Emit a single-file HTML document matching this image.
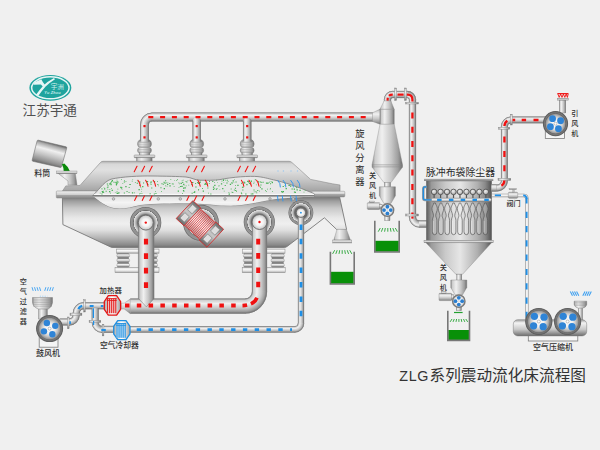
<!DOCTYPE html>
<html><head><meta charset="utf-8"><title>ZLG</title><style>html,body{margin:0;padding:0;background:#f0f0f0;font-family:"Liberation Sans",sans-serif}svg{display:block}</style></head><body><svg width="600" height="450" viewBox="0 0 600 450"><defs>
<linearGradient id="gV" x1="0" y1="0" x2="0" y2="1">
 <stop offset="0" stop-color="#858585"/><stop offset=".1" stop-color="#cdcdcd"/><stop offset=".33" stop-color="#f0f0f0"/><stop offset=".63" stop-color="#c8c8c8"/><stop offset=".85" stop-color="#9e9e9e"/><stop offset="1" stop-color="#6c6c6c"/>
</linearGradient>
<linearGradient id="gH" x1="0" y1="0" x2="1" y2="0">
 <stop offset="0" stop-color="#858585"/><stop offset=".1" stop-color="#cdcdcd"/><stop offset=".33" stop-color="#f0f0f0"/><stop offset=".63" stop-color="#c8c8c8"/><stop offset=".85" stop-color="#9e9e9e"/><stop offset="1" stop-color="#6c6c6c"/>
</linearGradient>
<linearGradient id="gHd" x1="0" y1="0" x2="1" y2="0">
 <stop offset="0" stop-color="#5a5a5a"/><stop offset=".08" stop-color="#9a9a9a"/><stop offset=".3" stop-color="#cacaca"/><stop offset=".52" stop-color="#e6e6e6"/><stop offset=".78" stop-color="#b0b0b0"/><stop offset=".9" stop-color="#8a8a8a"/><stop offset="1" stop-color="#505050"/>
</linearGradient>
<linearGradient id="gUp" x1="0" y1="161" x2="0" y2="191" gradientUnits="userSpaceOnUse">
 <stop offset="0" stop-color="#a8a8a8"/><stop offset=".1" stop-color="#d8d8d8"/><stop offset=".3" stop-color="#e0e0e0"/><stop offset=".7" stop-color="#c0c0c0"/><stop offset="1" stop-color="#a4a4a4"/>
</linearGradient>
<linearGradient id="gLow" x1="0" y1="198" x2="0" y2="248" gradientUnits="userSpaceOnUse">
 <stop offset="0" stop-color="#808080"/><stop offset=".06" stop-color="#9e9e9e"/><stop offset=".2" stop-color="#c8c8c8"/><stop offset=".4" stop-color="#e8e8e8"/><stop offset=".52" stop-color="#efefef"/><stop offset=".64" stop-color="#e0e0e0"/><stop offset=".8" stop-color="#b4b4b4"/><stop offset=".93" stop-color="#8c8c8c"/><stop offset="1" stop-color="#6e6e6e"/>
</linearGradient>
<linearGradient id="gLeftShade" x1="62" y1="0" x2="70" y2="0" gradientUnits="userSpaceOnUse">
 <stop offset="0" stop-color="#707070" stop-opacity=".3"/><stop offset="1" stop-color="#707070" stop-opacity="0"/>
</linearGradient>
<linearGradient id="gFl" x1="0" y1="0" x2="0" y2="1">
 <stop offset="0" stop-color="#f2f2f2"/><stop offset=".5" stop-color="#d0d0d0"/><stop offset=".55" stop-color="#a8a8a8"/><stop offset="1" stop-color="#8a8a8a"/>
</linearGradient>
<linearGradient id="gWinLow" x1="0" y1="196" x2="0" y2="209" gradientUnits="userSpaceOnUse">
 <stop offset="0" stop-color="#e0e0e0"/><stop offset=".5" stop-color="#f4f4f4"/><stop offset="1" stop-color="#e2e2e2"/>
</linearGradient>
<linearGradient id="gBucket" x1="52.1" y1="143.5" x2="46.5" y2="164.3" gradientUnits="userSpaceOnUse">
 <stop offset="0" stop-color="#6a6a6a"/><stop offset=".1" stop-color="#aaaaaa"/><stop offset=".32" stop-color="#f0f0f0"/><stop offset=".6" stop-color="#c4c4c4"/><stop offset=".88" stop-color="#909090"/><stop offset="1" stop-color="#6e6e6e"/>
</linearGradient>
<radialGradient id="gFan" cx=".5" cy=".5" r=".5">
 <stop offset="0" stop-color="#ffffff"/><stop offset=".45" stop-color="#f0f0f0"/><stop offset=".75" stop-color="#c4c4c4"/><stop offset="1" stop-color="#8c8c8c"/>
</radialGradient>
<radialGradient id="gFanRing" cx=".5" cy=".5" r=".5">
 <stop offset="0" stop-color="#555"/><stop offset=".8" stop-color="#5a5a5a"/><stop offset=".9" stop-color="#787878"/><stop offset="1" stop-color="#606060"/>
</radialGradient>
<radialGradient id="gPort" cx=".5" cy=".5" r=".5">
 <stop offset="0" stop-color="#666"/><stop offset=".5" stop-color="#686868"/><stop offset=".6" stop-color="#a8a8a8"/><stop offset=".72" stop-color="#d8d8d8"/><stop offset=".755" stop-color="#dcdcdc"/><stop offset=".775" stop-color="#6a6a6a"/><stop offset=".81" stop-color="#8e8e8e"/><stop offset=".93" stop-color="#969696"/><stop offset="1" stop-color="#606060"/>
</radialGradient>
<radialGradient id="gPipeEnd" cx=".5" cy=".5" r=".5">
 <stop offset="0" stop-color="#ffffff"/><stop offset=".5" stop-color="#f4f4f4"/><stop offset=".85" stop-color="#d4d4d4"/><stop offset="1" stop-color="#b0b0b0"/>
</radialGradient>
<linearGradient id="gHeat" x1="0" y1="0" x2="1" y2="0">
 <stop offset="0" stop-color="#f0b0b0"/><stop offset=".4" stop-color="#ffffff"/><stop offset="1" stop-color="#e89a9a"/>
</linearGradient>
<linearGradient id="gCool" x1="0" y1="0" x2="1" y2="0">
 <stop offset="0" stop-color="#a8d4f0"/><stop offset=".4" stop-color="#ffffff"/><stop offset="1" stop-color="#8ec4ea"/>
</linearGradient>
<linearGradient id="gCap" x1="0" y1="0" x2="0" y2="1">
 <stop offset="0" stop-color="#6c6c6c"/><stop offset=".3" stop-color="#b0b0b0"/><stop offset=".5" stop-color="#c6c6c6"/><stop offset=".72" stop-color="#a4a4a4"/><stop offset="1" stop-color="#686868"/>
</linearGradient>
<linearGradient id="gRib" x1="0" y1="0" x2="0" y2="1">
 <stop offset="0" stop-color="#b49c9c"/><stop offset=".35" stop-color="#f0eaea"/><stop offset=".55" stop-color="#f6f2f2"/><stop offset="1" stop-color="#b8a0a0"/>
</linearGradient>
<linearGradient id="gHx" x1="0" y1="0" x2="1" y2="0">
 <stop offset="0" stop-color="#a8a8a8"/><stop offset=".45" stop-color="#ffffff"/><stop offset=".6" stop-color="#f4f4f4"/><stop offset="1" stop-color="#a0a0a0"/>
</linearGradient>
<radialGradient id="gValve" cx=".4" cy=".35" r=".65">
 <stop offset="0" stop-color="#f0f0f0"/><stop offset=".6" stop-color="#c8c8c8"/><stop offset="1" stop-color="#9a9a9a"/>
</radialGradient>
<linearGradient id="gSp" x1="0" y1="0" x2="0" y2="1">
 <stop offset="0" stop-color="#d0d0d0"/><stop offset=".3" stop-color="#fafafa"/><stop offset=".7" stop-color="#e0e0e0"/><stop offset="1" stop-color="#9a9a9a"/>
</linearGradient>
<linearGradient id="gLid" x1="0" y1="0" x2="0" y2="1">
 <stop offset="0" stop-color="#b0b0b0"/><stop offset=".5" stop-color="#989898"/><stop offset="1" stop-color="#787878"/>
</linearGradient>
<linearGradient id="gComp" x1="0" y1="0" x2="0" y2="1">
 <stop offset="0" stop-color="#9a9a9a"/><stop offset=".2" stop-color="#f4f4f4"/><stop offset=".6" stop-color="#c8c8c8"/><stop offset="1" stop-color="#6e6e6e"/>
</linearGradient>
<radialGradient id="ge1" gradientUnits="userSpaceOnUse" cx="152" cy="124.5" r="11.80"><stop offset="0.271" stop-color="#6c6c6c"/><stop offset="0.381" stop-color="#9e9e9e"/><stop offset="0.541" stop-color="#c8c8c8"/><stop offset="0.759" stop-color="#f0f0f0"/><stop offset="0.927" stop-color="#cdcdcd"/><stop offset="1.000" stop-color="#858585"/></radialGradient><radialGradient id="ge2" gradientUnits="userSpaceOnUse" cx="245" cy="291.6" r="22.00"><stop offset="0.318" stop-color="#858585"/><stop offset="0.386" stop-color="#cdcdcd"/><stop offset="0.543" stop-color="#f0f0f0"/><stop offset="0.748" stop-color="#c8c8c8"/><stop offset="0.898" stop-color="#9e9e9e"/><stop offset="1.000" stop-color="#6c6c6c"/></radialGradient><radialGradient id="ge3" gradientUnits="userSpaceOnUse" cx="294.8" cy="323.2" r="9.30"><stop offset="0.333" stop-color="#858585"/><stop offset="0.400" stop-color="#cdcdcd"/><stop offset="0.553" stop-color="#f0f0f0"/><stop offset="0.753" stop-color="#c8c8c8"/><stop offset="0.900" stop-color="#9e9e9e"/><stop offset="1.000" stop-color="#6c6c6c"/></radialGradient><radialGradient id="ge4" gradientUnits="userSpaceOnUse" cx="69.3" cy="315.1" r="10.35"><stop offset="0.333" stop-color="#858585"/><stop offset="0.400" stop-color="#cdcdcd"/><stop offset="0.553" stop-color="#f0f0f0"/><stop offset="0.753" stop-color="#c8c8c8"/><stop offset="0.900" stop-color="#9e9e9e"/><stop offset="1.000" stop-color="#6c6c6c"/></radialGradient><radialGradient id="ge5" gradientUnits="userSpaceOnUse" cx="83.8" cy="313.2" r="10.95"><stop offset="0.370" stop-color="#6c6c6c"/><stop offset="0.464" stop-color="#9e9e9e"/><stop offset="0.603" stop-color="#c8c8c8"/><stop offset="0.792" stop-color="#f0f0f0"/><stop offset="0.937" stop-color="#cdcdcd"/><stop offset="1.000" stop-color="#858585"/></radialGradient><radialGradient id="ge6" gradientUnits="userSpaceOnUse" cx="102" cy="322.5" r="10.20"><stop offset="0.333" stop-color="#6c6c6c"/><stop offset="0.433" stop-color="#9e9e9e"/><stop offset="0.580" stop-color="#c8c8c8"/><stop offset="0.780" stop-color="#f0f0f0"/><stop offset="0.933" stop-color="#cdcdcd"/><stop offset="1.000" stop-color="#858585"/></radialGradient><radialGradient id="ge7" gradientUnits="userSpaceOnUse" cx="392.5" cy="99.5" r="8.50"><stop offset="0.176" stop-color="#6c6c6c"/><stop offset="0.300" stop-color="#9e9e9e"/><stop offset="0.481" stop-color="#c8c8c8"/><stop offset="0.728" stop-color="#f0f0f0"/><stop offset="0.918" stop-color="#cdcdcd"/><stop offset="1.000" stop-color="#858585"/></radialGradient><radialGradient id="ge8" gradientUnits="userSpaceOnUse" cx="407.5" cy="99.5" r="8.50"><stop offset="0.176" stop-color="#858585"/><stop offset="0.259" stop-color="#cdcdcd"/><stop offset="0.448" stop-color="#f0f0f0"/><stop offset="0.695" stop-color="#c8c8c8"/><stop offset="0.876" stop-color="#9e9e9e"/><stop offset="1.000" stop-color="#6c6c6c"/></radialGradient><radialGradient id="ge9" gradientUnits="userSpaceOnUse" cx="419.5" cy="217" r="10.50"><stop offset="0.333" stop-color="#6c6c6c"/><stop offset="0.433" stop-color="#9e9e9e"/><stop offset="0.580" stop-color="#c8c8c8"/><stop offset="0.780" stop-color="#f0f0f0"/><stop offset="0.933" stop-color="#cdcdcd"/><stop offset="1.000" stop-color="#858585"/></radialGradient><radialGradient id="ge10" gradientUnits="userSpaceOnUse" cx="497" cy="180.6" r="10.70"><stop offset="0.383" stop-color="#858585"/><stop offset="0.445" stop-color="#cdcdcd"/><stop offset="0.587" stop-color="#f0f0f0"/><stop offset="0.772" stop-color="#c8c8c8"/><stop offset="0.907" stop-color="#9e9e9e"/><stop offset="1.000" stop-color="#6c6c6c"/></radialGradient><radialGradient id="ge11" gradientUnits="userSpaceOnUse" cx="511" cy="126.5" r="9.90"><stop offset="0.333" stop-color="#6c6c6c"/><stop offset="0.433" stop-color="#9e9e9e"/><stop offset="0.580" stop-color="#c8c8c8"/><stop offset="0.780" stop-color="#f0f0f0"/><stop offset="0.933" stop-color="#cdcdcd"/><stop offset="1.000" stop-color="#858585"/></radialGradient></defs>
<rect x="0" y="0" width="600" height="450" fill="#f0f0f0"/>
<ellipse cx="50.35" cy="87.8" rx="21" ry="12.9" fill="#1fa49e"/>
<ellipse cx="50.35" cy="87.8" rx="18.7" ry="11" fill="none" stroke="#e6f6f5" stroke-width="1.5"/>
<path d="M54.0,78.0 Q47,81.8 43.4,85.5 Q39.8,89.6 36.0,94.8 L38.4,95.8 Q42,90.6 45.4,86.8 Q48.6,83.2 55.0,79.2 Z" fill="#e6f6f5"/>
<path d="M33.4,84.7 L34.6,82.2 L41.3,79.3 Q42.8,82.6 45.2,85.2 L43.4,87 Q42,85.6 40.9,84.5 Z" fill="#e6f6f5"/>
<text x="50.7" y="88.9" font-size="6.7" fill="#cdeeed" font-family="'Liberation Sans','Noto Sans CJK SC',sans-serif">宇洲</text>
<text x="44.3" y="94.3" font-size="3.8" font-weight="bold" font-style="italic" letter-spacing="0.2" fill="#c4eceb" font-family="'Liberation Sans',sans-serif">Yu Zhou</text>
<text x="22.6" y="115.1" font-size="13.6" fill="#505050" font-family="'Liberation Sans','Noto Sans CJK SC',sans-serif">江苏宇通</text>
<path d="M38.3,140.2 L66,146.8 Q67,147.1 66.7,148.1 L61.5,166.8 Q61.2,167.7 60.2,167.4 L32.9,161.3 Q31.9,161 32.2,160 L37.1,140.9 Q37.4,140 38.3,140.2 Z" fill="url(#gBucket)" stroke="#707070" stroke-width="0.6"/>
<path d="M61.9,164.2 L64.3,163.6 Q68.2,166.6 69.9,171.3 L63.7,171.3 Q63.6,167.2 61.9,164.2 Z" fill="#0a8a0a"/>
<text x="34.2" y="175.5" font-size="8" font-weight="500" fill="#303030" font-family="'Liberation Sans','Noto Sans CJK SC',sans-serif">料筒</text>
<polygon points="58.30,173.50 75.30,173.50 77.00,185.00 68.00,185.00 68.00,181.00" fill="url(#gH)" stroke="#888" stroke-width="0.5" stroke-linejoin="round" />
<rect x="56.50" y="171.00" width="20.50" height="2.60" fill="url(#gV)" stroke="#888" stroke-width="0.4" />
<rect x="137.60" y="140.20" width="13.80" height="7.20" fill="url(#gH)" stroke="#808080" stroke-width="0.5" rx="3.2" />
<rect x="137.60" y="147.40" width="13.80" height="6.00" fill="url(#gH)" stroke="#808080" stroke-width="0.5" rx="2.8" />
<rect x="139.20" y="139.80" width="10.60" height="2.20" fill="url(#gH)" stroke="#808080" stroke-width="0.4" rx="0.8" />
<rect x="139.20" y="152.60" width="10.60" height="2.60" fill="url(#gH)" stroke="#808080" stroke-width="0.4" />
<line x1="138.2" y1="142.8" x2="150.8" y2="142.8" stroke="#9a9a9a" stroke-width="0.5"/>
<line x1="138.2" y1="144.8" x2="150.8" y2="144.8" stroke="#9a9a9a" stroke-width="0.5"/>
<line x1="138.2" y1="146.4" x2="150.8" y2="146.4" stroke="#9a9a9a" stroke-width="0.5"/>
<line x1="138.2" y1="149.4" x2="150.8" y2="149.4" stroke="#9a9a9a" stroke-width="0.5"/>
<line x1="138.2" y1="151.2" x2="150.8" y2="151.2" stroke="#9a9a9a" stroke-width="0.5"/>
<rect x="134.20" y="155.00" width="20.60" height="2.70" fill="url(#gV)" stroke="#808080" stroke-width="0.5" rx="0.6" />
<rect x="136.50" y="157.70" width="15.60" height="3.50" fill="url(#gH)" stroke="#808080" stroke-width="0.4" />
<rect x="189.80" y="140.20" width="13.80" height="7.20" fill="url(#gH)" stroke="#808080" stroke-width="0.5" rx="3.2" />
<rect x="189.80" y="147.40" width="13.80" height="6.00" fill="url(#gH)" stroke="#808080" stroke-width="0.5" rx="2.8" />
<rect x="191.40" y="139.80" width="10.60" height="2.20" fill="url(#gH)" stroke="#808080" stroke-width="0.4" rx="0.8" />
<rect x="191.40" y="152.60" width="10.60" height="2.60" fill="url(#gH)" stroke="#808080" stroke-width="0.4" />
<line x1="190.39999999999998" y1="142.8" x2="203.0" y2="142.8" stroke="#9a9a9a" stroke-width="0.5"/>
<line x1="190.39999999999998" y1="144.8" x2="203.0" y2="144.8" stroke="#9a9a9a" stroke-width="0.5"/>
<line x1="190.39999999999998" y1="146.4" x2="203.0" y2="146.4" stroke="#9a9a9a" stroke-width="0.5"/>
<line x1="190.39999999999998" y1="149.4" x2="203.0" y2="149.4" stroke="#9a9a9a" stroke-width="0.5"/>
<line x1="190.39999999999998" y1="151.2" x2="203.0" y2="151.2" stroke="#9a9a9a" stroke-width="0.5"/>
<rect x="186.40" y="155.00" width="20.60" height="2.70" fill="url(#gV)" stroke="#808080" stroke-width="0.5" rx="0.6" />
<rect x="188.70" y="157.70" width="15.60" height="3.50" fill="url(#gH)" stroke="#808080" stroke-width="0.4" />
<rect x="240.30" y="140.20" width="13.80" height="7.20" fill="url(#gH)" stroke="#808080" stroke-width="0.5" rx="3.2" />
<rect x="240.30" y="147.40" width="13.80" height="6.00" fill="url(#gH)" stroke="#808080" stroke-width="0.5" rx="2.8" />
<rect x="241.90" y="139.80" width="10.60" height="2.20" fill="url(#gH)" stroke="#808080" stroke-width="0.4" rx="0.8" />
<rect x="241.90" y="152.60" width="10.60" height="2.60" fill="url(#gH)" stroke="#808080" stroke-width="0.4" />
<line x1="240.89999999999998" y1="142.8" x2="253.5" y2="142.8" stroke="#9a9a9a" stroke-width="0.5"/>
<line x1="240.89999999999998" y1="144.8" x2="253.5" y2="144.8" stroke="#9a9a9a" stroke-width="0.5"/>
<line x1="240.89999999999998" y1="146.4" x2="253.5" y2="146.4" stroke="#9a9a9a" stroke-width="0.5"/>
<line x1="240.89999999999998" y1="149.4" x2="253.5" y2="149.4" stroke="#9a9a9a" stroke-width="0.5"/>
<line x1="240.89999999999998" y1="151.2" x2="253.5" y2="151.2" stroke="#9a9a9a" stroke-width="0.5"/>
<rect x="236.90" y="155.00" width="20.60" height="2.70" fill="url(#gV)" stroke="#808080" stroke-width="0.5" rx="0.6" />
<rect x="239.20" y="157.70" width="15.60" height="3.50" fill="url(#gH)" stroke="#808080" stroke-width="0.4" />
<rect x="140.20" y="124.15" width="8.60" height="17.20" fill="url(#gH)"/>
<path d="M140.50,124.15 V141.35 M148.50,124.15 V141.35" stroke="#7c7c7c" stroke-width="0.7" fill="none"/>
<path d="M148.80,124.50 A3.20,3.20 0 0 1 152.00,121.30 L152.00,112.70 A11.80,11.80 0 0 0 140.20,124.50 Z" fill="url(#ge1)"/>
<path d="M148.50,124.50 A3.50,3.50 0 0 1 152.00,121.00 M152.00,113.00 A11.50,11.50 0 0 0 140.50,124.50" stroke="#7c7c7c" stroke-width="0.7" fill="none"/>
<rect x="151.65" y="112.60" width="221.70" height="8.80" fill="url(#gV)"/>
<path d="M151.65,112.90 H373.35 M151.65,121.10 H373.35" stroke="#7c7c7c" stroke-width="0.7" fill="none"/>
<path d="M192.6,121.5 Q192.6,117.8 195.89999999999998,117.8 Q200.79999999999998,117.8 200.79999999999998,121.5 Z" fill="url(#gH)" stroke="none"/>
<rect x="192.60" y="120.85" width="8.20" height="20.50" fill="url(#gH)"/>
<path d="M192.90,120.85 V141.35 M200.50,120.85 V141.35" stroke="#7c7c7c" stroke-width="0.7" fill="none"/>
<path d="M243.1,121.5 Q243.1,117.8 246.39999999999998,117.8 Q251.29999999999998,117.8 251.29999999999998,121.5 Z" fill="url(#gH)" stroke="none"/>
<rect x="243.10" y="120.85" width="8.20" height="20.50" fill="url(#gH)"/>
<path d="M243.40,120.85 V141.35 M251.00,120.85 V141.35" stroke="#7c7c7c" stroke-width="0.7" fill="none"/>
<path d="M148.3,117.1 H372" fill="none" stroke="#f01010" stroke-width="2.2" stroke-dasharray="5 6.8" stroke-dashoffset="0"/>
<rect x="143.40" y="125.00" width="2.20" height="2.20" fill="#f01010" />
<rect x="143.40" y="136.30" width="2.20" height="2.20" fill="#f01010" />
<rect x="195.60" y="125.00" width="2.20" height="2.20" fill="#f01010" />
<rect x="195.60" y="136.30" width="2.20" height="2.20" fill="#f01010" />
<rect x="246.10" y="125.00" width="2.20" height="2.20" fill="#f01010" />
<rect x="246.10" y="136.30" width="2.20" height="2.20" fill="#f01010" />
<rect x="116.50" y="249.00" width="42.50" height="4.20" fill="url(#gSp)" stroke="#8a8a8a" stroke-width="0.5" />
<rect x="117.80" y="253.30" width="10.80" height="14.30" fill="#8c8c8c" stroke="#7a7a7a" stroke-width="0.3" />
<rect x="116.80" y="253.80" width="12.80" height="3.57" fill="url(#gV)" stroke="#808080" stroke-width="0.35" rx="1.6" />
<rect x="116.80" y="258.57" width="12.80" height="3.57" fill="url(#gV)" stroke="#808080" stroke-width="0.35" rx="1.6" />
<rect x="116.80" y="263.33" width="12.80" height="3.57" fill="url(#gV)" stroke="#808080" stroke-width="0.35" rx="1.6" />
<rect x="146.00" y="253.30" width="10.60" height="14.30" fill="#8c8c8c" stroke="#7a7a7a" stroke-width="0.3" />
<rect x="145.00" y="253.80" width="12.60" height="3.57" fill="url(#gV)" stroke="#808080" stroke-width="0.35" rx="1.6" />
<rect x="145.00" y="258.57" width="12.60" height="3.57" fill="url(#gV)" stroke="#808080" stroke-width="0.35" rx="1.6" />
<rect x="145.00" y="263.33" width="12.60" height="3.57" fill="url(#gV)" stroke="#808080" stroke-width="0.35" rx="1.6" />
<rect x="115.00" y="267.50" width="44.00" height="5.10" fill="url(#gSp)" stroke="#8a8a8a" stroke-width="0.5" />
<rect x="242.60" y="249.00" width="42.40" height="4.40" fill="url(#gSp)" stroke="#8a8a8a" stroke-width="0.5" />
<rect x="244.40" y="253.50" width="10.60" height="14.10" fill="#8c8c8c" stroke="#7a7a7a" stroke-width="0.3" />
<rect x="243.40" y="254.00" width="12.60" height="3.50" fill="url(#gV)" stroke="#808080" stroke-width="0.35" rx="1.6" />
<rect x="243.40" y="258.70" width="12.60" height="3.50" fill="url(#gV)" stroke="#808080" stroke-width="0.35" rx="1.6" />
<rect x="243.40" y="263.40" width="12.60" height="3.50" fill="url(#gV)" stroke="#808080" stroke-width="0.35" rx="1.6" />
<rect x="272.00" y="253.50" width="11.40" height="14.10" fill="#8c8c8c" stroke="#7a7a7a" stroke-width="0.3" />
<rect x="271.00" y="254.00" width="13.40" height="3.50" fill="url(#gV)" stroke="#808080" stroke-width="0.35" rx="1.6" />
<rect x="271.00" y="258.70" width="13.40" height="3.50" fill="url(#gV)" stroke="#808080" stroke-width="0.35" rx="1.6" />
<rect x="271.00" y="263.40" width="13.40" height="3.50" fill="url(#gV)" stroke="#808080" stroke-width="0.35" rx="1.6" />
<rect x="242.20" y="267.50" width="43.00" height="5.10" fill="url(#gSp)" stroke="#8a8a8a" stroke-width="0.5" />
<path d="M62.5,191 L65.8,185.9 L80,185.4 L100.4,162.6 Q101.4,161.3 103,161.3 L289,161.3 Q290.6,161.3 291.8,162.4 L310.6,179.4 L332.4,183.8 L340,185 L340,191.5 Z" fill="url(#gUp)" stroke="#8a8a8a" stroke-width="0.6" stroke-linejoin="round"/>
<path d="M62.4,197.8 L62.9,224.6 L110.5,246.9 Q111.5,247.4 113,247.4 L284.5,247.4 Q285.8,247.4 287,246.5 L324.4,217.8 L336.7,229.5 L346.6,229.5 L339.6,197 Z" fill="url(#gLow)" stroke="#787878" stroke-width="0.9" stroke-linejoin="round"/>
<polygon points="337.00,229.30 346.40,229.30 350.40,240.00 333.80,240.00" fill="url(#gH)" stroke="#8a8a8a" stroke-width="0.4" stroke-linejoin="round" />
<rect x="332.70" y="240.00" width="19.10" height="3.00" fill="url(#gV)" stroke="#8a8a8a" stroke-width="0.4" />
<rect x="56.30" y="191.00" width="39.70" height="7.00" fill="url(#gFl)" stroke="#888" stroke-width="0.5" rx="0.8" />
<rect x="311.70" y="191.30" width="33.10" height="5.60" fill="url(#gFl)" stroke="#888" stroke-width="0.5" rx="0.8" />
<path d="M92.5,195.6 C98,191.5 103,182 111,179.2 C122,176.6 140,175.8 152,176 C166,176.2 178,176.4 186,177 C192,177.6 194,180 200,180.2 C208,180.4 214,180.4 220,179.6 C232,177 250,175.8 258,176.6 C266,177.6 270,179.2 276,180.4 C290,183.8 304,189.4 314,193.6 L314,196.4 C300,197 285,197.8 274,199.2 C262,201 250,204.4 236,205.6 C222,206.4 205,203.4 190,203.2 C172,203.2 152,203.4 140,205 C130,207.6 122,209.2 114,208 C106,206.6 99,201 92.5,195.6 Z" fill="#e7e7e7" stroke="#828282" stroke-width="0.85"/>
<clipPath id="cw"><path d="M92.5,195.6 C98,191.5 103,182 111,179.2 C122,176.6 140,175.8 152,176 C166,176.2 178,176.4 186,177 C192,177.6 194,180 200,180.2 C208,180.4 214,180.4 220,179.6 C232,177 250,175.8 258,176.6 C266,177.6 270,179.2 276,180.4 C290,183.8 304,189.4 314,193.6 L314,196.4 C300,197 285,197.8 274,199.2 C262,201 250,204.4 236,205.6 C222,206.4 205,203.4 190,203.2 C172,203.2 152,203.4 140,205 C130,207.6 122,209.2 114,208 C106,206.6 99,201 92.5,195.6 Z"/></clipPath>
<g clip-path="url(#cw)">
<rect x="90" y="196" width="230" height="16" fill="url(#gWinLow)"/>
<rect x="90" y="193.8" width="230" height="1.3" fill="#f8f8f8"/>
<rect x="90" y="195" width="230" height="1.6" fill="#7e7e7e"/>
</g>
<g clip-path="url(#cw)"><path d="M166.0,182.6h0.8v0.7h-0.8z M269.0,181.8h0.9v0.8h-0.9z M106.8,183.4h1.3v1.2h-1.3z M111.2,188.2h0.8v0.7h-0.8z M218.5,185.8h0.8v0.7h-0.8z M214.2,182.3h0.8v0.7h-0.8z M217.2,187.9h0.8v0.7h-0.8z M219.4,188.9h0.8v0.7h-0.8z M215.8,188.6h1.3v1.2h-1.3z M259.9,186.7h1.1v1.0h-1.1z M161.1,190.9h0.9v0.8h-0.9z M115.9,184.5h1.1v1.0h-1.1z M250.0,184.3h0.8v0.7h-0.8z M205.0,182.7h1.3v1.2h-1.3z M186.3,181.6h1.1v1.0h-1.1z M169.4,185.2h1.3v1.2h-1.3z M113.2,181.8h0.8v0.7h-0.8z M111.6,189.8h1.3v1.2h-1.3z M157.9,185.6h0.8v0.7h-0.8z M293.7,188.6h1.3v1.2h-1.3z M111.2,180.8h1.3v1.2h-1.3z M288.8,185.0h1.1v1.0h-1.1z M281.9,191.7h1.1v1.0h-1.1z M245.2,193.4h1.3v1.2h-1.3z M297.3,186.1h0.9v0.8h-0.9z M101.5,188.2h0.9v0.8h-0.9z M185.7,185.4h0.9v0.8h-0.9z M241.9,187.3h0.8v0.7h-0.8z M193.5,191.9h1.3v1.2h-1.3z M181.4,185.7h1.3v1.2h-1.3z M111.9,179.9h1.1v1.0h-1.1z M223.4,181.9h0.8v0.7h-0.8z M295.4,185.6h1.3v1.2h-1.3z M129.7,183.9h1.1v1.0h-1.1z M197.1,182.1h1.3v1.2h-1.3z M198.4,182.5h1.1v1.0h-1.1z M198.1,189.6h0.9v0.8h-0.9z M295.9,187.2h0.8v0.7h-0.8z M255.9,184.5h0.8v0.7h-0.8z M243.1,184.0h0.9v0.8h-0.9z M172.6,183.5h1.1v1.0h-1.1z M230.7,188.6h0.9v0.8h-0.9z M265.9,191.2h0.9v0.8h-0.9z M140.4,187.0h0.8v0.7h-0.8z M262.6,181.8h1.1v1.0h-1.1z M191.6,192.8h1.1v1.0h-1.1z M115.7,181.9h1.1v1.0h-1.1z M141.3,188.7h0.8v0.7h-0.8z M198.3,189.1h0.8v0.7h-0.8z M271.8,182.5h0.9v0.8h-0.9z M198.0,182.9h1.1v1.0h-1.1z M117.0,192.9h1.3v1.2h-1.3z M182.1,192.9h0.9v0.8h-0.9z M304.6,188.4h1.3v1.2h-1.3z M265.9,182.5h1.3v1.2h-1.3z M235.1,185.2h0.9v0.8h-0.9z M103.4,192.3h0.8v0.7h-0.8z M208.0,192.7h0.9v0.8h-0.9z M270.0,183.3h1.1v1.0h-1.1z M202.7,190.5h1.3v1.2h-1.3z M271.7,181.7h1.3v1.2h-1.3z M236.1,191.2h0.9v0.8h-0.9z M209.1,181.1h0.9v0.8h-0.9z M225.0,179.7h0.8v0.7h-0.8z M214.2,184.8h1.3v1.2h-1.3z M261.3,182.0h0.9v0.8h-0.9z M138.6,181.1h0.8v0.7h-0.8z M256.3,192.5h0.9v0.8h-0.9z M242.4,186.5h1.3v1.2h-1.3z M204.1,183.8h1.1v1.0h-1.1z M290.0,185.5h1.3v1.2h-1.3z M124.2,180.2h0.8v0.7h-0.8z M143.0,182.6h1.1v1.0h-1.1z M128.6,192.1h0.9v0.8h-0.9z M253.6,181.8h0.9v0.8h-0.9z M303.9,188.5h1.3v1.2h-1.3z M169.2,183.1h1.1v1.0h-1.1z M103.0,190.8h0.8v0.7h-0.8z M178.6,187.3h0.8v0.7h-0.8z M122.4,183.0h0.8v0.7h-0.8z M154.0,181.1h1.1v1.0h-1.1z M255.4,191.3h1.1v1.0h-1.1z M183.0,187.6h1.3v1.2h-1.3z M244.0,182.2h1.3v1.2h-1.3z M284.3,182.6h1.1v1.0h-1.1z M116.3,183.0h1.3v1.2h-1.3z M101.4,193.6h1.1v1.0h-1.1z M227.7,181.2h0.8v0.7h-0.8z M299.6,189.8h1.1v1.0h-1.1z M208.9,183.3h0.9v0.8h-0.9z M155.0,191.0h0.8v0.7h-0.8z M102.2,192.1h0.9v0.8h-0.9z M205.4,183.8h1.3v1.2h-1.3z M234.9,187.7h1.1v1.0h-1.1z M241.4,193.4h0.9v0.8h-0.9z M182.8,179.7h0.8v0.7h-0.8z M228.5,192.0h0.8v0.7h-0.8z M116.5,191.5h1.1v1.0h-1.1z M222.9,179.9h1.1v1.0h-1.1z M191.3,184.0h1.1v1.0h-1.1z M149.6,193.2h1.1v1.0h-1.1z M136.9,180.4h0.9v0.8h-0.9z M150.4,182.8h0.9v0.8h-0.9z M181.7,180.5h0.9v0.8h-0.9z M116.5,193.0h0.9v0.8h-0.9z M235.1,189.9h1.3v1.2h-1.3z M257.2,190.0h1.1v1.0h-1.1z M248.9,182.9h1.3v1.2h-1.3z M250.9,181.5h0.8v0.7h-0.8z M270.1,188.2h0.9v0.8h-0.9z M116.6,181.1h0.8v0.7h-0.8z M177.0,179.2h0.9v0.8h-0.9z M200.3,180.6h0.8v0.7h-0.8z M235.5,181.5h1.1v1.0h-1.1z M266.5,182.5h0.9v0.8h-0.9z M252.1,193.3h1.3v1.2h-1.3z M114.9,192.4h0.8v0.7h-0.8z M226.7,179.8h1.1v1.0h-1.1z M233.9,189.6h0.9v0.8h-0.9z M101.6,188.7h0.8v0.7h-0.8z M242.3,189.4h1.1v1.0h-1.1z M195.2,183.1h0.9v0.8h-0.9z M163.5,181.7h1.1v1.0h-1.1z M194.0,191.3h1.3v1.2h-1.3z M304.8,190.3h0.9v0.8h-0.9z M114.4,181.8h1.1v1.0h-1.1z M296.2,187.3h1.1v1.0h-1.1z M282.6,185.9h1.3v1.2h-1.3z M180.6,182.7h1.3v1.2h-1.3z M182.9,190.1h1.3v1.2h-1.3z M164.4,182.5h1.3v1.2h-1.3z M123.8,192.6h1.1v1.0h-1.1z M151.4,181.4h0.8v0.7h-0.8z M173.7,186.2h0.8v0.7h-0.8z M157.1,181.3h0.9v0.8h-0.9z M150.6,184.1h0.9v0.8h-0.9z M259.0,190.8h0.8v0.7h-0.8z M267.1,188.8h0.9v0.8h-0.9z M248.0,181.2h1.3v1.2h-1.3z M226.3,182.4h1.3v1.2h-1.3z M109.1,183.4h1.1v1.0h-1.1z M157.3,183.9h1.1v1.0h-1.1z M183.1,183.7h1.3v1.2h-1.3z M123.8,181.4h1.3v1.2h-1.3z M212.9,186.5h1.3v1.2h-1.3z M187.5,179.9h0.8v0.7h-0.8z M165.1,185.4h0.9v0.8h-0.9z M282.7,191.0h1.3v1.2h-1.3z M253.4,183.3h0.8v0.7h-0.8z M202.1,188.1h0.9v0.8h-0.9z M118.2,192.3h1.3v1.2h-1.3z M188.4,184.7h0.8v0.7h-0.8z M125.3,186.1h1.3v1.2h-1.3z M299.4,189.8h1.3v1.2h-1.3z M300.3,186.5h0.8v0.7h-0.8z M293.9,191.4h1.3v1.2h-1.3z M116.6,179.7h0.8v0.7h-0.8z M232.6,180.2h1.3v1.2h-1.3z M243.6,181.5h0.9v0.8h-0.9z M179.3,183.5h0.8v0.7h-0.8z M210.3,193.6h1.1v1.0h-1.1z M232.4,192.1h0.9v0.8h-0.9z M212.2,181.0h1.1v1.0h-1.1z M110.4,184.1h1.3v1.2h-1.3z M115.8,183.6h1.1v1.0h-1.1z M145.9,181.0h1.3v1.2h-1.3z M174.0,180.4h0.8v0.7h-0.8z M141.5,193.2h0.9v0.8h-0.9z M146.8,183.5h1.1v1.0h-1.1z M121.6,188.7h0.9v0.8h-0.9z M199.4,181.8h1.3v1.2h-1.3z M110.3,182.2h1.3v1.2h-1.3z M109.7,183.0h1.1v1.0h-1.1z M250.7,193.6h1.1v1.0h-1.1z M138.5,189.1h1.3v1.2h-1.3z M105.6,190.8h1.1v1.0h-1.1z M302.9,186.7h0.8v0.7h-0.8z M171.8,183.4h0.9v0.8h-0.9z M177.7,190.6h1.3v1.2h-1.3z M117.2,181.5h1.3v1.2h-1.3z M139.0,185.3h0.8v0.7h-0.8z M229.8,183.8h1.3v1.2h-1.3z M107.4,186.7h1.1v1.0h-1.1z M139.4,181.4h1.1v1.0h-1.1z M155.4,193.0h1.1v1.0h-1.1z M253.5,189.6h1.1v1.0h-1.1z M99.8,192.7h0.8v0.7h-0.8z M104.0,188.2h1.3v1.2h-1.3z M296.5,189.2h1.3v1.2h-1.3z M267.7,182.3h0.8v0.7h-0.8z M265.1,190.2h0.9v0.8h-0.9z M224.7,184.9h1.1v1.0h-1.1z M261.3,188.3h1.3v1.2h-1.3z M254.8,179.3h1.1v1.0h-1.1z M132.3,179.4h0.8v0.7h-0.8z M142.1,186.1h1.3v1.2h-1.3z M134.9,182.3h0.9v0.8h-0.9z M253.8,191.6h0.8v0.7h-0.8z M260.4,184.4h1.1v1.0h-1.1z M176.2,180.2h0.9v0.8h-0.9z M147.7,184.3h0.9v0.8h-0.9z M166.6,185.7h0.9v0.8h-0.9z M233.5,181.9h0.8v0.7h-0.8z M120.2,186.8h1.3v1.2h-1.3z M288.3,185.0h0.8v0.7h-0.8z M109.4,189.2h0.9v0.8h-0.9z M291.5,188.4h1.3v1.2h-1.3z M223.8,190.7h0.8v0.7h-0.8z M120.9,188.3h0.9v0.8h-0.9z M106.8,187.5h0.8v0.7h-0.8z M223.1,179.2h1.1v1.0h-1.1z M183.7,185.4h0.8v0.7h-0.8z M141.1,190.9h0.8v0.7h-0.8z M183.5,190.9h0.9v0.8h-0.9z M231.3,182.2h1.3v1.2h-1.3z M303.6,191.7h0.8v0.7h-0.8z M163.7,188.0h1.3v1.2h-1.3z M102.8,192.2h0.9v0.8h-0.9z M179.9,185.9h1.3v1.2h-1.3z M285.6,188.1h1.3v1.2h-1.3z M218.6,185.3h0.9v0.8h-0.9z M102.1,191.1h1.3v1.2h-1.3z M117.4,188.7h0.9v0.8h-0.9z M129.2,184.3h0.8v0.7h-0.8z M121.5,187.0h0.9v0.8h-0.9z M161.4,183.2h1.1v1.0h-1.1z M110.0,192.7h0.9v0.8h-0.9z M231.5,191.7h0.9v0.8h-0.9z M270.6,181.0h0.9v0.8h-0.9z M178.4,182.4h0.9v0.8h-0.9z M107.5,189.4h0.8v0.7h-0.8z M237.3,184.8h1.3v1.2h-1.3z M212.9,188.8h1.3v1.2h-1.3z M162.8,183.8h1.1v1.0h-1.1z M191.5,181.9h1.3v1.2h-1.3z M195.3,186.4h1.3v1.2h-1.3z M272.2,191.2h0.8v0.7h-0.8z M125.6,181.1h0.8v0.7h-0.8z M107.4,185.3h1.1v1.0h-1.1z M260.0,181.4h1.3v1.2h-1.3z M234.1,179.4h0.8v0.7h-0.8z M139.1,193.4h0.9v0.8h-0.9z M241.0,182.8h1.1v1.0h-1.1z M131.9,192.3h1.3v1.2h-1.3z M128.7,187.1h0.9v0.8h-0.9z M221.5,180.8h0.9v0.8h-0.9z M136.7,182.7h1.1v1.0h-1.1z M284.4,185.4h0.8v0.7h-0.8z M258.0,181.2h1.3v1.2h-1.3z M213.9,188.1h0.8v0.7h-0.8z M151.2,187.6h1.1v1.0h-1.1z M153.8,193.5h1.1v1.0h-1.1z M167.5,181.9h0.8v0.7h-0.8z M160.4,187.3h1.1v1.0h-1.1z M250.7,180.4h1.3v1.2h-1.3z M185.5,181.3h0.8v0.7h-0.8z M103.6,186.9h0.8v0.7h-0.8z M207.3,187.5h1.1v1.0h-1.1z M220.9,183.3h1.3v1.2h-1.3z M131.8,180.8h0.9v0.8h-0.9z M192.3,182.1h1.1v1.0h-1.1z M182.2,182.0h1.1v1.0h-1.1z M222.1,188.1h1.3v1.2h-1.3z M150.4,181.5h1.3v1.2h-1.3z M137.4,182.7h0.8v0.7h-0.8z M101.6,191.3h0.9v0.8h-0.9z M184.5,187.3h1.3v1.2h-1.3z M267.4,182.9h1.1v1.0h-1.1z M228.6,193.5h1.3v1.2h-1.3z M247.1,180.7h1.3v1.2h-1.3z M115.7,183.6h1.1v1.0h-1.1z M147.1,181.1h1.1v1.0h-1.1z M246.3,184.1h1.3v1.2h-1.3z M240.9,192.5h1.1v1.0h-1.1z M231.9,183.1h0.8v0.7h-0.8z M134.1,192.4h0.9v0.8h-0.9z M294.6,191.7h1.3v1.2h-1.3z M167.0,183.7h1.3v1.2h-1.3z M196.7,179.2h0.9v0.8h-0.9z M217.1,181.9h0.8v0.7h-0.8z M216.0,179.6h0.9v0.8h-0.9z M170.4,179.3h0.8v0.7h-0.8z M243.3,181.8h1.1v1.0h-1.1z M140.3,193.0h0.8v0.7h-0.8z M281.1,191.0h1.3v1.2h-1.3z M121.2,179.3h0.8v0.7h-0.8z M269.8,188.8h0.8v0.7h-0.8z M126.5,190.9h1.1v1.0h-1.1z M165.1,180.3h1.1v1.0h-1.1z M109.0,191.0h1.3v1.2h-1.3z" fill="#34ac44" opacity="0.9"/></g>
<circle cx="113.50" cy="198.90" r="1.30" fill="#cfcfcf" stroke="#777" stroke-width="0.5"/>
<circle cx="158.30" cy="198.90" r="1.30" fill="#cfcfcf" stroke="#777" stroke-width="0.5"/>
<circle cx="180.30" cy="198.90" r="1.30" fill="#cfcfcf" stroke="#777" stroke-width="0.5"/>
<circle cx="225.00" cy="198.90" r="1.30" fill="#cfcfcf" stroke="#777" stroke-width="0.5"/>
<circle cx="270.00" cy="198.90" r="1.30" fill="#cfcfcf" stroke="#777" stroke-width="0.5"/>
<circle cx="293.20" cy="198.90" r="1.30" fill="#cfcfcf" stroke="#777" stroke-width="0.5"/>
<path d="M137.0,166.2 L134.2,171.8" stroke="#f01010" stroke-width="1.05" stroke-linecap="round"/>
<path d="M138.0,180.2 Q140.0,182.8 140.4,186.2" stroke="#f01010" stroke-width="1.05" fill="none" stroke-linecap="round"/>
<path d="M136.8,195.9 L134.6,200.4" stroke="#f01010" stroke-width="1.05" stroke-linecap="round"/>
<path d="M144.6,166.2 L141.8,171.8" stroke="#f01010" stroke-width="1.05" stroke-linecap="round"/>
<path d="M145.6,180.2 Q147.6,182.8 148.0,186.2" stroke="#f01010" stroke-width="1.05" fill="none" stroke-linecap="round"/>
<path d="M144.4,195.9 L142.2,200.4" stroke="#f01010" stroke-width="1.05" stroke-linecap="round"/>
<path d="M152.2,166.2 L149.4,171.8" stroke="#f01010" stroke-width="1.05" stroke-linecap="round"/>
<path d="M153.2,180.2 Q155.2,182.8 155.6,186.2" stroke="#f01010" stroke-width="1.05" fill="none" stroke-linecap="round"/>
<path d="M152.0,195.9 L149.8,200.4" stroke="#f01010" stroke-width="1.05" stroke-linecap="round"/>
<path d="M189.2,166.2 L186.4,171.8" stroke="#f01010" stroke-width="1.05" stroke-linecap="round"/>
<path d="M190.2,180.2 Q192.2,182.8 192.6,186.2" stroke="#f01010" stroke-width="1.05" fill="none" stroke-linecap="round"/>
<path d="M189.0,195.9 L186.8,200.4" stroke="#f01010" stroke-width="1.05" stroke-linecap="round"/>
<path d="M196.8,166.2 L194.0,171.8" stroke="#f01010" stroke-width="1.05" stroke-linecap="round"/>
<path d="M197.8,180.2 Q199.8,182.8 200.2,186.2" stroke="#f01010" stroke-width="1.05" fill="none" stroke-linecap="round"/>
<path d="M196.6,195.9 L194.4,200.4" stroke="#f01010" stroke-width="1.05" stroke-linecap="round"/>
<path d="M204.4,166.2 L201.6,171.8" stroke="#f01010" stroke-width="1.05" stroke-linecap="round"/>
<path d="M205.4,180.2 Q207.4,182.8 207.8,186.2" stroke="#f01010" stroke-width="1.05" fill="none" stroke-linecap="round"/>
<path d="M204.2,195.9 L202.0,200.4" stroke="#f01010" stroke-width="1.05" stroke-linecap="round"/>
<path d="M240.4,166.2 L237.6,171.8" stroke="#f01010" stroke-width="1.05" stroke-linecap="round"/>
<path d="M241.4,180.2 Q243.4,182.8 243.8,186.2" stroke="#f01010" stroke-width="1.05" fill="none" stroke-linecap="round"/>
<path d="M240.2,195.9 L238.0,200.4" stroke="#f01010" stroke-width="1.05" stroke-linecap="round"/>
<path d="M248.0,166.2 L245.2,171.8" stroke="#f01010" stroke-width="1.05" stroke-linecap="round"/>
<path d="M249.0,180.2 Q251.0,182.8 251.4,186.2" stroke="#f01010" stroke-width="1.05" fill="none" stroke-linecap="round"/>
<path d="M247.8,195.9 L245.6,200.4" stroke="#f01010" stroke-width="1.05" stroke-linecap="round"/>
<path d="M255.6,166.2 L252.8,171.8" stroke="#f01010" stroke-width="1.05" stroke-linecap="round"/>
<path d="M256.6,180.2 Q258.6,182.8 259.0,186.2" stroke="#f01010" stroke-width="1.05" fill="none" stroke-linecap="round"/>
<path d="M255.4,195.9 L253.2,200.4" stroke="#f01010" stroke-width="1.05" stroke-linecap="round"/>
<circle cx="278.00" cy="171.00" r="0.70" fill="#9cc8ee"/>
<path d="M277.8,180.4 Q280.8,183.4 280.4,187" stroke="#3598ee" stroke-width="1.0" fill="none" stroke-linecap="round"/>
<path d="M277.5,195.9 L278.1,201" stroke="#3598ee" stroke-width="1.0" stroke-linecap="round"/>
<circle cx="283.40" cy="171.00" r="0.70" fill="#9cc8ee"/>
<path d="M283.3,180.4 Q286.3,183.4 285.9,187" stroke="#3598ee" stroke-width="1.0" fill="none" stroke-linecap="round"/>
<path d="M282.3,195.9 L282.9,201" stroke="#3598ee" stroke-width="1.0" stroke-linecap="round"/>
<circle cx="291.00" cy="171.00" r="0.70" fill="#9cc8ee"/>
<path d="M290.8,180.4 Q293.8,183.4 293.4,187" stroke="#3598ee" stroke-width="1.0" fill="none" stroke-linecap="round"/>
<path d="M290.6,195.9 L291.2,201" stroke="#3598ee" stroke-width="1.0" stroke-linecap="round"/>
<circle cx="297.50" cy="171.00" r="0.70" fill="#9cc8ee"/>
<path d="M297.4,180.4 Q300.4,183.4 300.0,187" stroke="#3598ee" stroke-width="1.0" fill="none" stroke-linecap="round"/>
<path d="M296.0,195.9 L296.6,201" stroke="#3598ee" stroke-width="1.0" stroke-linecap="round"/>
<circle cx="145.60" cy="222.70" r="15.70" fill="url(#gPort)"/>
<circle cx="259.30" cy="222.00" r="15.60" fill="url(#gPort)"/>
<circle cx="300.90" cy="212.70" r="12.40" fill="url(#gPort)"/>
<circle cx="201.00" cy="222.80" r="18.00" fill="url(#gPort)"/>
<g transform="translate(199.9,223.9) rotate(43)">
<rect x="-21.0" y="-12.25" width="10.8" height="24.5" fill="url(#gCap)" stroke="#d42a2a" stroke-width="0.8"/>
<rect x="10.2" y="-12.25" width="10.8" height="24.5" fill="url(#gCap)" stroke="#d42a2a" stroke-width="0.8"/>
<rect x="-10.2" y="-11.35" width="20.4" height="22.7" fill="url(#gRib)" stroke="#d42a2a" stroke-width="0.7"/>
<line x1="-8.50" y1="-11.35" x2="-8.50" y2="11.35" stroke="#dc2020" stroke-width="0.7"/>
<line x1="-6.80" y1="-11.35" x2="-6.80" y2="11.35" stroke="#dc2020" stroke-width="0.7"/>
<line x1="-5.10" y1="-11.35" x2="-5.10" y2="11.35" stroke="#dc2020" stroke-width="0.7"/>
<line x1="-3.40" y1="-11.35" x2="-3.40" y2="11.35" stroke="#dc2020" stroke-width="0.7"/>
<line x1="-1.70" y1="-11.35" x2="-1.70" y2="11.35" stroke="#dc2020" stroke-width="0.7"/>
<line x1="0.00" y1="-11.35" x2="0.00" y2="11.35" stroke="#dc2020" stroke-width="0.7"/>
<line x1="1.70" y1="-11.35" x2="1.70" y2="11.35" stroke="#dc2020" stroke-width="0.7"/>
<line x1="3.40" y1="-11.35" x2="3.40" y2="11.35" stroke="#dc2020" stroke-width="0.7"/>
<line x1="5.10" y1="-11.35" x2="5.10" y2="11.35" stroke="#dc2020" stroke-width="0.7"/>
<line x1="6.80" y1="-11.35" x2="6.80" y2="11.35" stroke="#dc2020" stroke-width="0.7"/>
<line x1="8.50" y1="-11.35" x2="8.50" y2="11.35" stroke="#dc2020" stroke-width="0.7"/>
<rect x="-18.60" y="-9.25" width="6.000000000000001" height="7.2" fill="#dedede" stroke="#777" stroke-width="0.5"/>
<rect x="-18.60" y="2.0500000000000007" width="6.000000000000001" height="7.2" fill="#dedede" stroke="#777" stroke-width="0.5"/>
<rect x="12.60" y="-9.25" width="6.000000000000001" height="7.2" fill="#dedede" stroke="#777" stroke-width="0.5"/>
<rect x="12.60" y="2.0500000000000007" width="6.000000000000001" height="7.2" fill="#dedede" stroke="#777" stroke-width="0.5"/>
</g>
<rect x="130.25" y="298.60" width="115.10" height="15.00" fill="url(#gV)"/>
<path d="M130.25,298.90 H245.35 M130.25,313.30 H245.35" stroke="#7c7c7c" stroke-width="0.7" fill="none"/>
<path d="M252.00,291.60 A7.00,7.00 0 0 1 245.00,298.60 L245.00,313.60 A22.00,22.00 0 0 0 267.00,291.60 Z" fill="url(#ge2)"/>
<path d="M252.30,291.60 A7.30,7.30 0 0 1 245.00,298.90 M245.00,313.30 A21.70,21.70 0 0 0 266.70,291.60" stroke="#7c7c7c" stroke-width="0.7" fill="none"/>
<rect x="252.00" y="221.65" width="15.00" height="70.30" fill="url(#gH)"/>
<path d="M252.30,221.65 V291.95 M266.70,221.65 V291.95" stroke="#7c7c7c" stroke-width="0.7" fill="none"/>
<polygon points="121.30,303.20 124.20,303.20 130.30,299.00 130.30,313.70 124.20,309.00 121.30,309.00" fill="url(#gV)" stroke="#8a8a8a" stroke-width="0.4" stroke-linejoin="round" />
<path d="M138.4,222.5 V298.5 L146.4,306.9 L154,298.5 V222.5 Z" fill="url(#gH)" stroke="#7c7c7c" stroke-width="0.6"/>
<circle cx="145.80" cy="222.60" r="7.50" fill="url(#gPipeEnd)" stroke="#6c6c6c" stroke-width="0.9"/>
<circle cx="259.50" cy="222.00" r="7.50" fill="url(#gPipeEnd)" stroke="#6c6c6c" stroke-width="0.9"/>
<circle cx="145.80" cy="222.60" r="1.20" fill="#f01010"/>
<circle cx="259.50" cy="222.00" r="1.20" fill="#f01010"/>
<path d="M146,238.8 V292" fill="none" stroke="#f01010" stroke-width="4.2" stroke-dasharray="5.6 8.9" stroke-dashoffset="0"/>
<path d="M258.2,238.8 V288" fill="none" stroke="#f01010" stroke-width="4" stroke-dasharray="5.6 8.7" stroke-dashoffset="0"/>
<path d="M125,305.4 H240" fill="none" stroke="#f01010" stroke-width="4" stroke-dasharray="4.5 7.3" stroke-dashoffset="0"/>
<path d="M242.5,305.6 Q256,305 257.8,295" fill="none" stroke="#f01010" stroke-width="3.6" stroke-dasharray="4.5 4 9 20"/>
<rect x="129.65" y="326.30" width="165.50" height="6.20" fill="url(#gV)"/>
<path d="M129.65,326.60 H295.15 M129.65,332.20 H295.15" stroke="#7c7c7c" stroke-width="0.7" fill="none"/>
<path d="M297.90,323.20 A3.10,3.10 0 0 1 294.80,326.30 L294.80,332.50 A9.30,9.30 0 0 0 304.10,323.20 Z" fill="url(#ge3)"/>
<path d="M298.20,323.20 A3.40,3.40 0 0 1 294.80,326.60 M294.80,332.20 A9.00,9.00 0 0 0 303.80,323.20" stroke="#7c7c7c" stroke-width="0.7" fill="none"/>
<rect x="298.00" y="212.65" width="6.00" height="110.90" fill="url(#gH)"/>
<path d="M298.30,212.65 V323.55 M303.70,212.65 V323.55" stroke="#7c7c7c" stroke-width="0.7" fill="none"/>
<circle cx="300.90" cy="212.70" r="4.70" fill="url(#gPipeEnd)" stroke="#6c6c6c" stroke-width="0.9"/>
<circle cx="300.90" cy="212.70" r="0.90" fill="#1e8fe6"/>
<path d="M136.7,329.6 H292" fill="none" stroke="#1e8fe6" stroke-width="2.6" stroke-dasharray="4.4 7.4" stroke-dashoffset="0"/>
<path d="M301,224.4 V322" fill="none" stroke="#1e8fe6" stroke-width="2.8" stroke-dasharray="5.5 8.9" stroke-dashoffset="0"/>
<path d="M39.5,287.2 L40.7,290.9" stroke="#45a4f2" stroke-width="0.95"/>
<path d="M45.9,287.2 L44.7,290.9" stroke="#45a4f2" stroke-width="0.95"/>
<path d="M37.0,287.2 L38.2,290.9" stroke="#45a4f2" stroke-width="0.95"/>
<path d="M48.4,287.2 L47.2,290.9" stroke="#45a4f2" stroke-width="0.95"/>
<path d="M34.5,287.2 L35.7,290.9" stroke="#45a4f2" stroke-width="0.95"/>
<path d="M50.9,287.2 L49.7,290.9" stroke="#45a4f2" stroke-width="0.95"/>
<path d="M32.0,287.2 L33.2,290.9" stroke="#45a4f2" stroke-width="0.95"/>
<path d="M53.4,287.2 L52.2,290.9" stroke="#45a4f2" stroke-width="0.95"/>
<path d="M39.8,296.2 H47.4" stroke="#a8d4f6" stroke-width="1" stroke-dasharray="1.2 1.2"/>
<rect x="38.60" y="308.00" width="8.80" height="11.00" fill="url(#gH)" stroke="#8a8a8a" stroke-width="0.4" />
<path d="M32.5,297.5 H52.5 V302.5 Q52,307 48.3,309 H38.3 Q33,307 32.5,302.5 Z" fill="url(#gH)" stroke="#808080" stroke-width="0.5"/>
<line x1="33" y1="299.2" x2="52" y2="299.2" stroke="#8f8f8f" stroke-width="0.45"/>
<line x1="33" y1="300.9" x2="52" y2="300.9" stroke="#8f8f8f" stroke-width="0.45"/>
<line x1="33" y1="302.6" x2="52" y2="302.6" stroke="#8f8f8f" stroke-width="0.45"/>
<line x1="33" y1="304.4" x2="52" y2="304.4" stroke="#8f8f8f" stroke-width="0.45"/>
<line x1="33" y1="306.2" x2="52" y2="306.2" stroke="#8f8f8f" stroke-width="0.45"/>
<rect x="39.20" y="335.00" width="18.80" height="12.20" fill="#f4f4f4" stroke="#7c7c7c" stroke-width="0.8" />
<rect x="59.65" y="318.65" width="10.00" height="6.70" fill="url(#gV)"/>
<path d="M59.65,318.95 H69.65 M59.65,325.05 H69.65" stroke="#7c7c7c" stroke-width="0.7" fill="none"/>
<path d="M72.75,315.10 A3.45,3.45 0 0 1 69.30,318.55 L69.30,325.45 A10.35,10.35 0 0 0 79.65,315.10 Z" fill="url(#ge4)"/>
<path d="M73.05,315.10 A3.75,3.75 0 0 1 69.30,318.85 M69.30,325.15 A10.05,10.05 0 0 0 79.35,315.10" stroke="#7c7c7c" stroke-width="0.7" fill="none"/>
<rect x="72.80" y="312.85" width="6.90" height="2.60" fill="url(#gH)"/>
<path d="M73.10,312.85 V315.45 M79.40,312.85 V315.45" stroke="#7c7c7c" stroke-width="0.7" fill="none"/>
<path d="M79.75,313.20 A4.05,4.05 0 0 1 83.80,309.15 L83.80,302.25 A10.95,10.95 0 0 0 72.85,313.20 Z" fill="url(#ge5)"/>
<path d="M79.45,313.20 A4.35,4.35 0 0 1 83.80,308.85 M83.80,302.55 A10.65,10.65 0 0 0 73.15,313.20" stroke="#7c7c7c" stroke-width="0.7" fill="none"/>
<rect x="83.45" y="302.45" width="21.90" height="6.70" fill="url(#gV)"/>
<path d="M83.45,302.75 H105.35 M83.45,308.85 H105.35" stroke="#7c7c7c" stroke-width="0.7" fill="none"/>
<rect x="91.80" y="308.15" width="6.80" height="14.70" fill="url(#gH)"/>
<path d="M92.10,308.15 V322.85 M98.30,308.15 V322.85" stroke="#7c7c7c" stroke-width="0.7" fill="none"/>
<path d="M102.00,325.90 A3.40,3.40 0 0 1 98.60,322.50 L91.80,322.50 A10.20,10.20 0 0 0 102.00,332.70 Z" fill="url(#ge6)"/>
<path d="M102.00,326.20 A3.70,3.70 0 0 1 98.30,322.50 M92.10,322.50 A9.90,9.90 0 0 0 102.00,332.40" stroke="#7c7c7c" stroke-width="0.7" fill="none"/>
<rect x="101.65" y="325.95" width="12.70" height="6.70" fill="url(#gV)"/>
<path d="M101.65,326.25 H114.35 M101.65,332.35 H114.35" stroke="#7c7c7c" stroke-width="0.7" fill="none"/>
<rect x="67.40" y="317.00" width="1.70" height="11.70" fill="url(#gV)" stroke="#808080" stroke-width="0.4" />
<rect x="70.00" y="313.10" width="11.90" height="2.40" fill="url(#gH)" stroke="#808080" stroke-width="0.4" />
<rect x="83.70" y="299.80" width="1.60" height="12.20" fill="url(#gV)" stroke="#808080" stroke-width="0.4" />
<rect x="89.10" y="320.30" width="11.70" height="2.30" fill="url(#gH)" stroke="#808080" stroke-width="0.4" />
<rect x="102.20" y="324.20" width="1.70" height="11.70" fill="url(#gV)" stroke="#808080" stroke-width="0.4" />
<path d="M69.3,322.6 H70.9" stroke="#1e8fe6" stroke-width="2.6"/>
<path d="M78.4,309 Q79.4,306.4 82.2,305.8" stroke="#1e8fe6" stroke-width="2.3" fill="none"/>
<path d="M89.7,306 H93.6 M100.8,306 H103.4" stroke="#1e8fe6" stroke-width="2.2" fill="none"/>
<path d="M93.4,308.2 V318 M93.6,321 V325" stroke="#1e8fe6" stroke-width="1.3" fill="none"/>
<path d="M101.3,330 H105.8" stroke="#1e8fe6" stroke-width="2.2"/>
<circle cx="49.60" cy="328.60" r="13.50" fill="#5e5e5e"/>
<circle cx="49.60" cy="328.60" r="13.00" fill="url(#gFanRing)"/>
<circle cx="49.60" cy="328.60" r="10.90" fill="url(#gFan)"/>
<circle cx="55.24" cy="325.85" r="3.20" fill="#2f84d6"/>
<circle cx="52.35" cy="334.24" r="3.20" fill="#2f84d6"/>
<circle cx="43.96" cy="331.35" r="3.20" fill="#2f84d6"/>
<circle cx="46.85" cy="322.96" r="3.20" fill="#2f84d6"/>
<circle cx="49.60" cy="328.60" r="1.50" fill="#fdfdfd" stroke="#8a8a8a" stroke-width="0.5"/>
<polygon points="108.30,295.70 116.60,295.70 120.60,301.50 120.60,309.30 116.60,315.10 108.30,315.10 104.30,309.30 104.30,301.50" fill="url(#gHx)" stroke="#e41414" stroke-width="1.3" stroke-linejoin="round" />
<rect x="107.00" y="299.90" width="9.40" height="13.30" fill="#f3cfcf" />
<path d="M106.70,298.60 H116.70 M106.70,300.40 H116.70" stroke="#e41414" stroke-width="0.9" fill="none"/>
<line x1="107.60" y1="298.60" x2="107.60" y2="313.20" stroke="#e41414" stroke-width="1.0"/>
<line x1="109.65" y1="298.60" x2="109.65" y2="313.20" stroke="#e41414" stroke-width="1.0"/>
<line x1="111.70" y1="298.60" x2="111.70" y2="313.20" stroke="#e41414" stroke-width="1.0"/>
<line x1="113.75" y1="298.60" x2="113.75" y2="313.20" stroke="#e41414" stroke-width="1.0"/>
<line x1="115.80" y1="298.60" x2="115.80" y2="313.20" stroke="#e41414" stroke-width="1.0"/>
<polygon points="117.70,320.60 126.00,320.60 130.00,326.40 130.00,333.90 126.00,339.70 117.70,339.70 113.70,333.90 113.70,326.40" fill="url(#gHx)" stroke="#1e8fe0" stroke-width="1.3" stroke-linejoin="round" />
<rect x="116.40" y="324.80" width="9.40" height="13.00" fill="#c4e0f6" />
<path d="M116.10,323.50 H126.10 M116.10,325.30 H126.10" stroke="#1e8fe0" stroke-width="0.9" fill="none"/>
<line x1="117.00" y1="323.50" x2="117.00" y2="337.80" stroke="#1e8fe0" stroke-width="1.0"/>
<line x1="119.05" y1="323.50" x2="119.05" y2="337.80" stroke="#1e8fe0" stroke-width="1.0"/>
<line x1="121.10" y1="323.50" x2="121.10" y2="337.80" stroke="#1e8fe0" stroke-width="1.0"/>
<line x1="123.15" y1="323.50" x2="123.15" y2="337.80" stroke="#1e8fe0" stroke-width="1.0"/>
<line x1="125.20" y1="323.50" x2="125.20" y2="337.80" stroke="#1e8fe0" stroke-width="1.0"/>
<text x="99.6" y="292.8" font-size="7.4" font-weight="500" fill="#303030" font-family="'Liberation Sans','Noto Sans CJK SC',sans-serif">加热器</text>
<text x="99.9" y="347.5" font-size="7.8" font-weight="500" fill="#303030" font-family="'Liberation Sans','Noto Sans CJK SC',sans-serif">空气冷却器</text>
<text x="36" y="355.7" font-size="8" font-weight="500" fill="#303030" font-family="'Liberation Sans','Noto Sans CJK SC',sans-serif">鼓风机</text>
<text font-size="7.1" font-weight="500" fill="#303030" text-anchor="middle" font-family="'Liberation Sans','Noto Sans CJK SC',sans-serif"><tspan x="23.2" y="283.7">空</tspan><tspan x="23.2" y="293.8">气</tspan><tspan x="23.2" y="303.7">过</tspan><tspan x="23.2" y="313.8">滤</tspan><tspan x="23.2" y="323.8">器</tspan></text>
<polygon points="372.50,112.80 380.00,109.20 380.00,124.20 372.50,121.50" fill="url(#gV)" stroke="#8a8a8a" stroke-width="0.4" stroke-linejoin="round" />
<rect x="384.00" y="99.15" width="7.00" height="3.20" fill="url(#gH)"/>
<path d="M384.30,99.15 V102.35 M390.70,99.15 V102.35" stroke="#7c7c7c" stroke-width="0.7" fill="none"/>
<path d="M391.00,99.50 A1.50,1.50 0 0 1 392.50,98.00 L392.50,91.00 A8.50,8.50 0 0 0 384.00,99.50 Z" fill="url(#ge7)"/>
<path d="M390.70,99.50 A1.80,1.80 0 0 1 392.50,97.70 M392.50,91.30 A8.20,8.20 0 0 0 384.30,99.50" stroke="#7c7c7c" stroke-width="0.7" fill="none"/>
<rect x="392.15" y="91.00" width="15.70" height="7.00" fill="url(#gV)"/>
<path d="M392.15,91.30 H407.85 M392.15,97.70 H407.85" stroke="#7c7c7c" stroke-width="0.7" fill="none"/>
<path d="M407.50,98.00 A1.50,1.50 0 0 1 409.00,99.50 L416.00,99.50 A8.50,8.50 0 0 0 407.50,91.00 Z" fill="url(#ge8)"/>
<path d="M407.50,97.70 A1.80,1.80 0 0 1 409.30,99.50 M415.70,99.50 A8.20,8.20 0 0 0 407.50,91.30" stroke="#7c7c7c" stroke-width="0.7" fill="none"/>
<rect x="409.00" y="99.15" width="7.00" height="118.20" fill="url(#gH)"/>
<path d="M409.30,99.15 V217.35 M415.70,99.15 V217.35" stroke="#7c7c7c" stroke-width="0.7" fill="none"/>
<path d="M419.50,220.50 A3.50,3.50 0 0 1 416.00,217.00 L409.00,217.00 A10.50,10.50 0 0 0 419.50,227.50 Z" fill="url(#ge9)"/>
<path d="M419.50,220.80 A3.80,3.80 0 0 1 415.70,217.00 M409.30,217.00 A10.20,10.20 0 0 0 419.50,227.20" stroke="#7c7c7c" stroke-width="0.7" fill="none"/>
<rect x="419.15" y="220.50" width="8.20" height="7.00" fill="url(#gV)"/>
<path d="M419.15,220.80 H427.35 M419.15,227.20 H427.35" stroke="#7c7c7c" stroke-width="0.7" fill="none"/>
<rect x="394.60" y="88.00" width="2.00" height="12.40" fill="url(#gV)" stroke="#808080" stroke-width="0.4" />
<rect x="404.40" y="88.00" width="2.00" height="12.40" fill="url(#gV)" stroke="#808080" stroke-width="0.4" />
<rect x="405.80" y="102.40" width="12.60" height="1.60" fill="url(#gH)" stroke="#808080" stroke-width="0.4" />
<rect x="405.80" y="214.00" width="12.60" height="2.00" fill="url(#gH)" stroke="#808080" stroke-width="0.4" />
<path d="M387.6,102 V99.6 Q387.6,94.6 392.4,94.6 H394" fill="none" stroke="#f01010" stroke-width="2.2" stroke-dasharray="4 2.5"/>
<path d="M397.5,94.6 H403.6" stroke="#f01010" stroke-width="2.2"/>
<path d="M406.8,94.6 H407.6 Q412.4,94.6 412.4,99.6 V101.6" fill="none" stroke="#f01010" stroke-width="2.2"/>
<path d="M412.4,112.4 V214" fill="none" stroke="#f01010" stroke-width="2.3" stroke-dasharray="6 8.3" stroke-dashoffset="0"/>
<rect x="411.30" y="216.60" width="2.20" height="2.00" fill="#f01010" />
<polygon points="384.20,100.80 390.80,100.80 394.20,109.20 380.00,109.20" fill="url(#gH)" stroke="#8a8a8a" stroke-width="0.4" stroke-linejoin="round" />
<rect x="380.00" y="109.20" width="14.20" height="15.00" fill="url(#gH)" stroke="#8a8a8a" stroke-width="0.4" />
<polygon points="380.00,124.20 394.20,124.20 402.60,165.00 372.00,165.00" fill="url(#gH)" stroke="#8a8a8a" stroke-width="0.4" stroke-linejoin="round" />
<rect x="372.00" y="165.00" width="30.60" height="2.00" fill="url(#gH)" stroke="#8a8a8a" stroke-width="0.4" />
<polygon points="372.00,167.00 402.60,167.00 391.00,182.60 384.00,182.60" fill="url(#gH)" stroke="#8a8a8a" stroke-width="0.4" stroke-linejoin="round" />
<rect x="384.40" y="182.60" width="6.20" height="4.40" fill="url(#gH)" stroke="#8a8a8a" stroke-width="0.4" />
<path d="M379.4,186.8 H395.4 V195.8 L391.0,203.3 H383.79999999999995 L379.4,195.8 Z" fill="url(#gH)" stroke="#808080" stroke-width="0.4"/>
<rect x="384.80" y="215.90" width="5.20" height="4.90" fill="url(#gH)" stroke="#808080" stroke-width="0.4" />
<rect x="367.30" y="202.70" width="12.70" height="6.70" fill="url(#gV)" stroke="#808080" stroke-width="0.4" rx="0.8" />
<rect x="379.50" y="204.20" width="2.60" height="4.00" fill="url(#gV)" stroke="#808080" stroke-width="0.4" />
<rect x="369.80" y="201.10" width="4.50" height="1.60" fill="url(#gV)" stroke="#808080" stroke-width="0.4" />
<circle cx="387.40" cy="210.10" r="6.30" fill="url(#gPipeEnd)" stroke="#7a7a7a" stroke-width="1.4"/>
<circle cx="387.40" cy="206.75" r="1.90" fill="#2b7fd0"/>
<circle cx="384.05" cy="210.10" r="1.90" fill="#2b7fd0"/>
<circle cx="390.75" cy="210.10" r="1.90" fill="#2b7fd0"/>
<circle cx="387.40" cy="213.45" r="1.90" fill="#2b7fd0"/>
<circle cx="387.40" cy="210.10" r="0.80" fill="#fff" stroke="#999" stroke-width="0.3"/>
<rect x="375.20" y="240.80" width="23.60" height="10.90" fill="#089008" />
<path d="M374.8,220.8 V252.0 H399.2 V220.8" fill="none" stroke="#777" stroke-width="1.6"/>
<path d="M380.3,228 L378.2,231.7" stroke="#30a83e" stroke-width="0.95"/>
<path d="M382.8,228 L381.4,231.7" stroke="#30a83e" stroke-width="0.95"/>
<path d="M385.3,228 L384.6,231.7" stroke="#30a83e" stroke-width="0.95"/>
<path d="M387.8,228 L387.8,231.7" stroke="#30a83e" stroke-width="0.95"/>
<path d="M390.3,228 L391.0,231.7" stroke="#30a83e" stroke-width="0.95"/>
<path d="M392.8,228 L394.2,231.7" stroke="#30a83e" stroke-width="0.95"/>
<path d="M395.3,228 L397.4,231.7" stroke="#30a83e" stroke-width="0.95"/>
<text font-size="9.3" fill="#2a2a2a" text-anchor="middle" font-family="'Liberation Sans','Noto Sans CJK SC',sans-serif"><tspan x="359.8" y="136.8">旋</tspan><tspan x="359.8" y="148.9">风</tspan><tspan x="359.8" y="161.1">分</tspan><tspan x="359.8" y="173.2">离</tspan><tspan x="359.8" y="185.4">器</tspan></text>
<text font-size="7.1" font-weight="500" fill="#303030" text-anchor="middle" font-family="'Liberation Sans','Noto Sans CJK SC',sans-serif"><tspan x="372.6" y="178">关</tspan><tspan x="372.6" y="188">风</tspan><tspan x="372.6" y="198">机</tspan></text>
<rect x="330.80" y="271.80" width="23.00" height="11.90" fill="#089008" />
<path d="M330.40000000000003,251.8 V284.0 H354.2 V251.8" fill="none" stroke="#777" stroke-width="1.6"/>
<path d="M334.7,250.2 L332.6,253.89999999999998" stroke="#30a83e" stroke-width="0.95"/>
<path d="M337.2,250.2 L335.8,253.89999999999998" stroke="#30a83e" stroke-width="0.95"/>
<path d="M339.7,250.2 L339.0,253.89999999999998" stroke="#30a83e" stroke-width="0.95"/>
<path d="M342.2,250.2 L342.2,253.89999999999998" stroke="#30a83e" stroke-width="0.95"/>
<path d="M344.7,250.2 L345.4,253.89999999999998" stroke="#30a83e" stroke-width="0.95"/>
<path d="M347.2,250.2 L348.6,253.89999999999998" stroke="#30a83e" stroke-width="0.95"/>
<path d="M349.7,250.2 L351.8,253.89999999999998" stroke="#30a83e" stroke-width="0.95"/>
<rect x="426.30" y="181.00" width="65.40" height="59.50" fill="url(#gHd)" stroke="#707070" stroke-width="0.4" />
<rect x="424.00" y="178.80" width="69.30" height="2.10" fill="url(#gLid)" />
<path d="M433.80,203 C433.60,205 431.90,206 431.90,208.6 C431.90,211.4 433.50,213 433.50,215.6 C433.50,217.4 432.35,218 432.35,220.4 L432.35,232 Q432.35,234.7 434.60,234.7 Q436.85,234.7 436.85,232 L436.85,220.4 C436.85,218 435.70,217.4 435.70,215.6 C435.70,213 437.30,211.4 437.30,208.6 C437.30,206 435.60,205 435.40,203 Z" fill="#ffffff" fill-opacity="0.22" stroke="#4c4c4c" stroke-width="0.6"/>
<line x1="433.30" y1="221" x2="433.30" y2="232.4" stroke="#fff" stroke-opacity="0.55" stroke-width="0.6"/>
<path d="M440.15,203 C439.95,205 438.25,206 438.25,208.6 C438.25,211.4 439.85,213 439.85,215.6 C439.85,217.4 438.70,218 438.70,220.4 L438.70,232 Q438.70,234.7 440.95,234.7 Q443.20,234.7 443.20,232 L443.20,220.4 C443.20,218 442.05,217.4 442.05,215.6 C442.05,213 443.65,211.4 443.65,208.6 C443.65,206 441.95,205 441.75,203 Z" fill="#ffffff" fill-opacity="0.22" stroke="#4c4c4c" stroke-width="0.6"/>
<line x1="439.65" y1="221" x2="439.65" y2="232.4" stroke="#fff" stroke-opacity="0.55" stroke-width="0.6"/>
<path d="M446.50,203 C446.30,205 444.60,206 444.60,208.6 C444.60,211.4 446.20,213 446.20,215.6 C446.20,217.4 445.05,218 445.05,220.4 L445.05,232 Q445.05,234.7 447.30,234.7 Q449.55,234.7 449.55,232 L449.55,220.4 C449.55,218 448.40,217.4 448.40,215.6 C448.40,213 450.00,211.4 450.00,208.6 C450.00,206 448.30,205 448.10,203 Z" fill="#ffffff" fill-opacity="0.22" stroke="#4c4c4c" stroke-width="0.6"/>
<line x1="446.00" y1="221" x2="446.00" y2="232.4" stroke="#fff" stroke-opacity="0.55" stroke-width="0.6"/>
<path d="M452.85,203 C452.65,205 450.95,206 450.95,208.6 C450.95,211.4 452.55,213 452.55,215.6 C452.55,217.4 451.40,218 451.40,220.4 L451.40,232 Q451.40,234.7 453.65,234.7 Q455.90,234.7 455.90,232 L455.90,220.4 C455.90,218 454.75,217.4 454.75,215.6 C454.75,213 456.35,211.4 456.35,208.6 C456.35,206 454.65,205 454.45,203 Z" fill="#ffffff" fill-opacity="0.22" stroke="#4c4c4c" stroke-width="0.6"/>
<line x1="452.35" y1="221" x2="452.35" y2="232.4" stroke="#fff" stroke-opacity="0.55" stroke-width="0.6"/>
<path d="M459.20,203 C459.00,205 457.30,206 457.30,208.6 C457.30,211.4 458.90,213 458.90,215.6 C458.90,217.4 457.75,218 457.75,220.4 L457.75,232 Q457.75,234.7 460.00,234.7 Q462.25,234.7 462.25,232 L462.25,220.4 C462.25,218 461.10,217.4 461.10,215.6 C461.10,213 462.70,211.4 462.70,208.6 C462.70,206 461.00,205 460.80,203 Z" fill="#ffffff" fill-opacity="0.22" stroke="#4c4c4c" stroke-width="0.6"/>
<line x1="458.70" y1="221" x2="458.70" y2="232.4" stroke="#fff" stroke-opacity="0.55" stroke-width="0.6"/>
<path d="M465.55,203 C465.35,205 463.65,206 463.65,208.6 C463.65,211.4 465.25,213 465.25,215.6 C465.25,217.4 464.10,218 464.10,220.4 L464.10,232 Q464.10,234.7 466.35,234.7 Q468.60,234.7 468.60,232 L468.60,220.4 C468.60,218 467.45,217.4 467.45,215.6 C467.45,213 469.05,211.4 469.05,208.6 C469.05,206 467.35,205 467.15,203 Z" fill="#ffffff" fill-opacity="0.22" stroke="#4c4c4c" stroke-width="0.6"/>
<line x1="465.05" y1="221" x2="465.05" y2="232.4" stroke="#fff" stroke-opacity="0.55" stroke-width="0.6"/>
<path d="M471.90,203 C471.70,205 470.00,206 470.00,208.6 C470.00,211.4 471.60,213 471.60,215.6 C471.60,217.4 470.45,218 470.45,220.4 L470.45,232 Q470.45,234.7 472.70,234.7 Q474.95,234.7 474.95,232 L474.95,220.4 C474.95,218 473.80,217.4 473.80,215.6 C473.80,213 475.40,211.4 475.40,208.6 C475.40,206 473.70,205 473.50,203 Z" fill="#ffffff" fill-opacity="0.22" stroke="#4c4c4c" stroke-width="0.6"/>
<line x1="471.40" y1="221" x2="471.40" y2="232.4" stroke="#fff" stroke-opacity="0.55" stroke-width="0.6"/>
<path d="M478.25,203 C478.05,205 476.35,206 476.35,208.6 C476.35,211.4 477.95,213 477.95,215.6 C477.95,217.4 476.80,218 476.80,220.4 L476.80,232 Q476.80,234.7 479.05,234.7 Q481.30,234.7 481.30,232 L481.30,220.4 C481.30,218 480.15,217.4 480.15,215.6 C480.15,213 481.75,211.4 481.75,208.6 C481.75,206 480.05,205 479.85,203 Z" fill="#ffffff" fill-opacity="0.22" stroke="#4c4c4c" stroke-width="0.6"/>
<line x1="477.75" y1="221" x2="477.75" y2="232.4" stroke="#fff" stroke-opacity="0.55" stroke-width="0.6"/>
<path d="M484.60,203 C484.40,205 482.70,206 482.70,208.6 C482.70,211.4 484.30,213 484.30,215.6 C484.30,217.4 483.15,218 483.15,220.4 L483.15,232 Q483.15,234.7 485.40,234.7 Q487.65,234.7 487.65,232 L487.65,220.4 C487.65,218 486.50,217.4 486.50,215.6 C486.50,213 488.10,211.4 488.10,208.6 C488.10,206 486.40,205 486.20,203 Z" fill="#ffffff" fill-opacity="0.22" stroke="#4c4c4c" stroke-width="0.6"/>
<line x1="484.10" y1="221" x2="484.10" y2="232.4" stroke="#fff" stroke-opacity="0.55" stroke-width="0.6"/>
<rect x="433.50" y="194.40" width="1.20" height="3.80" fill="#555" />
<circle cx="434.10" cy="191.90" r="2.75" fill="url(#gValve)" stroke="#555" stroke-width="0.9"/>
<rect x="439.97" y="194.40" width="1.20" height="3.80" fill="#555" />
<circle cx="440.57" cy="191.90" r="2.75" fill="url(#gValve)" stroke="#555" stroke-width="0.9"/>
<rect x="446.44" y="194.40" width="1.20" height="3.80" fill="#555" />
<circle cx="447.04" cy="191.90" r="2.75" fill="url(#gValve)" stroke="#555" stroke-width="0.9"/>
<rect x="452.91" y="194.40" width="1.20" height="3.80" fill="#555" />
<circle cx="453.51" cy="191.90" r="2.75" fill="url(#gValve)" stroke="#555" stroke-width="0.9"/>
<rect x="459.38" y="194.40" width="1.20" height="3.80" fill="#555" />
<circle cx="459.98" cy="191.90" r="2.75" fill="url(#gValve)" stroke="#555" stroke-width="0.9"/>
<rect x="465.85" y="194.40" width="1.20" height="3.80" fill="#555" />
<circle cx="466.45" cy="191.90" r="2.75" fill="url(#gValve)" stroke="#555" stroke-width="0.9"/>
<rect x="472.32" y="194.40" width="1.20" height="3.80" fill="#555" />
<circle cx="472.92" cy="191.90" r="2.75" fill="url(#gValve)" stroke="#555" stroke-width="0.9"/>
<rect x="478.79" y="194.40" width="1.20" height="3.80" fill="#555" />
<circle cx="479.39" cy="191.90" r="2.75" fill="url(#gValve)" stroke="#555" stroke-width="0.9"/>
<rect x="485.26" y="194.40" width="1.20" height="3.80" fill="#555" />
<circle cx="485.86" cy="191.90" r="2.75" fill="url(#gValve)" stroke="#555" stroke-width="0.9"/>
<rect x="431.20" y="198.10" width="60.10" height="3.70" fill="url(#gV)" stroke="#808080" stroke-width="0.4" rx="1.7" />
<path d="M437.1,199.9 H490" fill="none" stroke="#1e8fe6" stroke-width="2.3" stroke-dasharray="4.5 7.3" stroke-dashoffset="0"/>
<path d="M431.4,199.9 H425 Q423.3,199.9 423.3,198.2 V188.6 Q423.3,186.9 425,186.9 H426.6" fill="none" stroke="#9c9c9c" stroke-width="2.5"/>
<path d="M431.4,199.9 H425 Q423.3,199.9 423.3,198.2 V188.6 Q423.3,186.9 425,186.9 H426.6" fill="none" stroke="#1e8fe6" stroke-width="1.3"/>
<rect x="424.00" y="240.30" width="69.30" height="2.30" fill="url(#gV)" stroke="#808080" stroke-width="0.4" />
<polygon points="425.80,242.60 491.70,242.60 462.60,274.20 455.80,274.20" fill="url(#gHd)" stroke="#808080" stroke-width="0.4" stroke-linejoin="round" />
<rect x="456.80" y="274.20" width="5.00" height="6.00" fill="url(#gH)" stroke="#808080" stroke-width="0.4" />
<path d="M450.8,280 H466.8 V287.5 L462.40000000000003,295 H455.2 L450.8,287.5 Z" fill="url(#gH)" stroke="#808080" stroke-width="0.4"/>
<rect x="456.20" y="306.90" width="5.20" height="3.90" fill="url(#gH)" stroke="#808080" stroke-width="0.4" />
<rect x="439.00" y="293.30" width="12.70" height="7.30" fill="url(#gV)" stroke="#808080" stroke-width="0.4" rx="0.8" />
<rect x="451.20" y="294.80" width="2.40" height="4.60" fill="url(#gV)" stroke="#808080" stroke-width="0.4" />
<rect x="441.50" y="291.70" width="4.50" height="1.60" fill="url(#gV)" stroke="#808080" stroke-width="0.4" />
<circle cx="458.80" cy="301.20" r="6.20" fill="url(#gPipeEnd)" stroke="#7a7a7a" stroke-width="1.4"/>
<circle cx="458.80" cy="297.85" r="1.90" fill="#2b7fd0"/>
<circle cx="455.45" cy="301.20" r="1.90" fill="#2b7fd0"/>
<circle cx="462.15" cy="301.20" r="1.90" fill="#2b7fd0"/>
<circle cx="458.80" cy="304.55" r="1.90" fill="#2b7fd0"/>
<circle cx="458.80" cy="301.20" r="0.80" fill="#fff" stroke="#999" stroke-width="0.3"/>
<rect x="448.20" y="330.00" width="20.90" height="10.10" fill="#089008" />
<path d="M447.8,310.8 V340.4 H469.5 V310.8" fill="none" stroke="#777" stroke-width="1.6"/>
<path d="M454,312.5 H462.6" stroke="#22a030" stroke-width="1.2"/>
<path d="M452.0,319 L450.1,321.9" stroke="#30a83e" stroke-width="0.95"/>
<path d="M454.3,319 L453.0,321.9" stroke="#30a83e" stroke-width="0.95"/>
<path d="M456.6,319 L456.0,321.9" stroke="#30a83e" stroke-width="0.95"/>
<path d="M458.9,319 L458.9,321.9" stroke="#30a83e" stroke-width="0.95"/>
<path d="M461.2,319 L461.8,321.9" stroke="#30a83e" stroke-width="0.95"/>
<path d="M463.5,319 L464.8,321.9" stroke="#30a83e" stroke-width="0.95"/>
<path d="M465.8,319 L467.7,321.9" stroke="#30a83e" stroke-width="0.95"/>
<text x="426" y="175.8" font-size="9.87" fill="#2a2a2a" font-family="'Liberation Sans','Noto Sans CJK SC',sans-serif">脉冲布袋除尘器</text>
<text font-size="7.1" font-weight="500" fill="#303030" text-anchor="middle" font-family="'Liberation Sans','Noto Sans CJK SC',sans-serif"><tspan x="443.3" y="270.3">关</tspan><tspan x="443.3" y="280.3">风</tspan><tspan x="443.3" y="290.3">机</tspan></text>
<rect x="491.35" y="184.70" width="6.00" height="6.60" fill="url(#gV)"/>
<path d="M491.35,185.00 H497.35 M491.35,191.00 H497.35" stroke="#7c7c7c" stroke-width="0.7" fill="none"/>
<path d="M501.10,180.60 A4.10,4.10 0 0 1 497.00,184.70 L497.00,191.30 A10.70,10.70 0 0 0 507.70,180.60 Z" fill="url(#ge10)"/>
<path d="M501.40,180.60 A4.40,4.40 0 0 1 497.00,185.00 M497.00,191.00 A10.40,10.40 0 0 0 507.40,180.60" stroke="#7c7c7c" stroke-width="0.7" fill="none"/>
<rect x="501.10" y="126.15" width="6.60" height="54.80" fill="url(#gH)"/>
<path d="M501.40,126.15 V180.95 M507.40,126.15 V180.95" stroke="#7c7c7c" stroke-width="0.7" fill="none"/>
<path d="M507.70,126.50 A3.30,3.30 0 0 1 511.00,123.20 L511.00,116.60 A9.90,9.90 0 0 0 501.10,126.50 Z" fill="url(#ge11)"/>
<path d="M507.40,126.50 A3.60,3.60 0 0 1 511.00,122.90 M511.00,116.90 A9.60,9.60 0 0 0 501.40,126.50" stroke="#7c7c7c" stroke-width="0.7" fill="none"/>
<rect x="510.65" y="116.60" width="35.70" height="6.60" fill="url(#gV)"/>
<path d="M510.65,116.90 H546.35 M510.65,122.90 H546.35" stroke="#7c7c7c" stroke-width="0.7" fill="none"/>
<rect x="491.70" y="184.60" width="4.90" height="6.60" fill="url(#gV)" stroke="#8a8a8a" stroke-width="0.3" />
<rect x="498.00" y="178.30" width="12.80" height="2.20" fill="url(#gH)" stroke="#808080" stroke-width="0.4" />
<rect x="498.70" y="127.20" width="11.00" height="2.00" fill="url(#gH)" stroke="#808080" stroke-width="0.4" />
<rect x="510.30" y="114.20" width="1.90" height="10.80" fill="url(#gV)" stroke="#808080" stroke-width="0.4" />
<path d="M504.4,136.6 V178" fill="none" stroke="#f01010" stroke-width="2.3" stroke-dasharray="6 8.3" stroke-dashoffset="0"/>
<path d="M504.3,180.6 Q504.3,184.2 501.4,185.8" fill="none" stroke="#f01010" stroke-width="2.3"/>
<path d="M504.4,126 Q504.6,122.4 507.4,120.8" fill="none" stroke="#f01010" stroke-width="2.3"/>
<path d="M512.6,120 H544" fill="none" stroke="#f01010" stroke-width="2.3" stroke-dasharray="2.6 6.5 4.4 7.4 5 20" stroke-dashoffset="0"/>
<rect x="559.20" y="100.00" width="6.60" height="13.00" fill="url(#gH)" stroke="#808080" stroke-width="0.4" />
<rect x="557.50" y="98.60" width="10.80" height="1.50" fill="url(#gV)" stroke="#808080" stroke-width="0.4" />
<rect x="545.30" y="130.00" width="19.20" height="8.40" fill="#f6f6f6" stroke="#7c7c7c" stroke-width="0.8" />
<circle cx="555.50" cy="123.70" r="12.60" fill="#5e5e5e"/>
<circle cx="555.50" cy="123.70" r="12.10" fill="url(#gFanRing)"/>
<circle cx="555.50" cy="123.70" r="10.00" fill="url(#gFan)"/>
<circle cx="560.57" cy="120.77" r="3.40" fill="#2f84d6"/>
<circle cx="558.43" cy="128.77" r="3.40" fill="#2f84d6"/>
<circle cx="550.43" cy="126.63" r="3.40" fill="#2f84d6"/>
<circle cx="552.57" cy="118.63" r="3.40" fill="#2f84d6"/>
<circle cx="555.50" cy="123.70" r="1.50" fill="#fdfdfd" stroke="#8a8a8a" stroke-width="0.5"/>
<path d="M557.4,93.6 H568.4" stroke="#f01010" stroke-width="1.1"/>
<path d="M557.8,93.8 L559.2,97.4 L560.6,94 L562,97.4 L563.4,94 L564.8,97.4 L566.2,94 L567.4,97.4 L568.2,93.8" fill="none" stroke="#f01010" stroke-width="0.9"/>
<text font-size="7.1" font-weight="500" fill="#303030" text-anchor="middle" font-family="'Liberation Sans','Noto Sans CJK SC',sans-serif"><tspan x="574.8" y="115.5">引</tspan><tspan x="574.8" y="125.5">风</tspan><tspan x="574.8" y="135.5">机</tspan></text>
<path d="M492,195.4 H523.6 Q526.8,195.4 526.8,198.6 V319" fill="none" stroke="#8e8e8e" stroke-width="3.5"/>
<path d="M492,195.4 H523.6 Q526.8,195.4 526.8,198.6 V319" fill="none" stroke="#f2f2f2" stroke-width="2.3"/>
<path d="M494.8,195.3 H501" stroke="#1e8fe6" stroke-width="1.7"/>
<path d="M523.2,195.3 Q526.6,195.3 526.6,199" fill="none" stroke="#1e8fe6" stroke-width="1.8"/>
<path d="M526.6,197.4 V319" fill="none" stroke="#1e8fe6" stroke-width="1.9" stroke-dasharray="6.2 8.1" stroke-dashoffset="0"/>
<rect x="508.30" y="192.20" width="9.40" height="6.10" fill="url(#gV)" stroke="#808080" stroke-width="0.4" rx="1" />
<rect x="512.80" y="189.60" width="1.40" height="2.60" fill="#bbb" stroke="#808080" stroke-width="0.3" />
<rect x="509.00" y="188.40" width="7.60" height="1.30" fill="url(#gV)" stroke="#808080" stroke-width="0.3" />
<text x="506.4" y="205.8" font-size="7.1" font-weight="500" fill="#303030" font-family="'Liberation Sans','Noto Sans CJK SC',sans-serif">阀门</text>
<rect x="578.30" y="306.00" width="4.20" height="15.00" fill="url(#gH)" stroke="#808080" stroke-width="0.4" />
<path d="M574.2,301.2 H586.7 V304.4 Q586,307.6 582.5,308.2 H578.3 Q575,307.6 574.2,304.4 Z" fill="url(#gH)" stroke="#808080" stroke-width="0.5"/>
<line x1="574.6" y1="302.6" x2="586.3" y2="302.6" stroke="#8f8f8f" stroke-width="0.4"/>
<line x1="574.6" y1="304" x2="586.3" y2="304" stroke="#8f8f8f" stroke-width="0.4"/>
<line x1="574.6" y1="305.4" x2="586.3" y2="305.4" stroke="#8f8f8f" stroke-width="0.4"/>
<path d="M576.6,291.6 L578.8,295.8" stroke="#3c9ff0" stroke-width="1.05"/>
<path d="M585.0,291.6 L582.8,295.8" stroke="#3c9ff0" stroke-width="1.05"/>
<path d="M574.5,291.6 L576.7,295.8" stroke="#3c9ff0" stroke-width="1.05"/>
<path d="M587.1,291.6 L584.9,295.8" stroke="#3c9ff0" stroke-width="1.05"/>
<path d="M572.4,291.6 L574.6,295.8" stroke="#3c9ff0" stroke-width="1.05"/>
<path d="M589.2,291.6 L587.0,295.8" stroke="#3c9ff0" stroke-width="1.05"/>
<path d="M570.3,291.6 L572.5,295.8" stroke="#3c9ff0" stroke-width="1.05"/>
<path d="M591.3,291.6 L589.1,295.8" stroke="#3c9ff0" stroke-width="1.05"/>
<rect x="528.30" y="334.00" width="49.50" height="7.00" fill="#f6f6f6" stroke="#7c7c7c" stroke-width="0.8" />
<rect x="513.30" y="319.70" width="73.40" height="16.20" fill="url(#gComp)" stroke="#7a7a7a" stroke-width="0.5" rx="4.5" />
<circle cx="538.80" cy="321.50" r="13.60" fill="#5e5e5e"/>
<circle cx="538.80" cy="321.50" r="13.10" fill="url(#gFanRing)"/>
<circle cx="538.80" cy="321.50" r="11.00" fill="url(#gFan)"/>
<circle cx="544.01" cy="317.13" r="3.65" fill="#2f84d6"/>
<circle cx="543.17" cy="326.71" r="3.65" fill="#2f84d6"/>
<circle cx="533.59" cy="325.87" r="3.65" fill="#2f84d6"/>
<circle cx="534.43" cy="316.29" r="3.65" fill="#2f84d6"/>
<circle cx="538.80" cy="321.50" r="1.50" fill="#fdfdfd" stroke="#8a8a8a" stroke-width="0.5"/>
<circle cx="567.60" cy="321.50" r="13.60" fill="#5e5e5e"/>
<circle cx="567.60" cy="321.50" r="13.10" fill="url(#gFanRing)"/>
<circle cx="567.60" cy="321.50" r="11.00" fill="url(#gFan)"/>
<circle cx="572.81" cy="317.13" r="3.65" fill="#2f84d6"/>
<circle cx="571.97" cy="326.71" r="3.65" fill="#2f84d6"/>
<circle cx="562.39" cy="325.87" r="3.65" fill="#2f84d6"/>
<circle cx="563.23" cy="316.29" r="3.65" fill="#2f84d6"/>
<circle cx="567.60" cy="321.50" r="1.50" fill="#fdfdfd" stroke="#8a8a8a" stroke-width="0.5"/>
<text x="533.1" y="350.4" font-size="8" font-weight="500" fill="#303030" font-family="'Liberation Sans','Noto Sans CJK SC',sans-serif">空气压缩机</text>
<text x="399.3" y="380.5" font-size="14.3" letter-spacing="0.6" fill="#333" font-family="'Liberation Sans','Noto Sans CJK SC',sans-serif">ZLG</text>
<text x="429.5" y="380.9" font-size="15.65" fill="#333" font-family="'Liberation Sans','Noto Sans CJK SC',sans-serif">系列震动流化床流程图</text>
</svg></body></html>
